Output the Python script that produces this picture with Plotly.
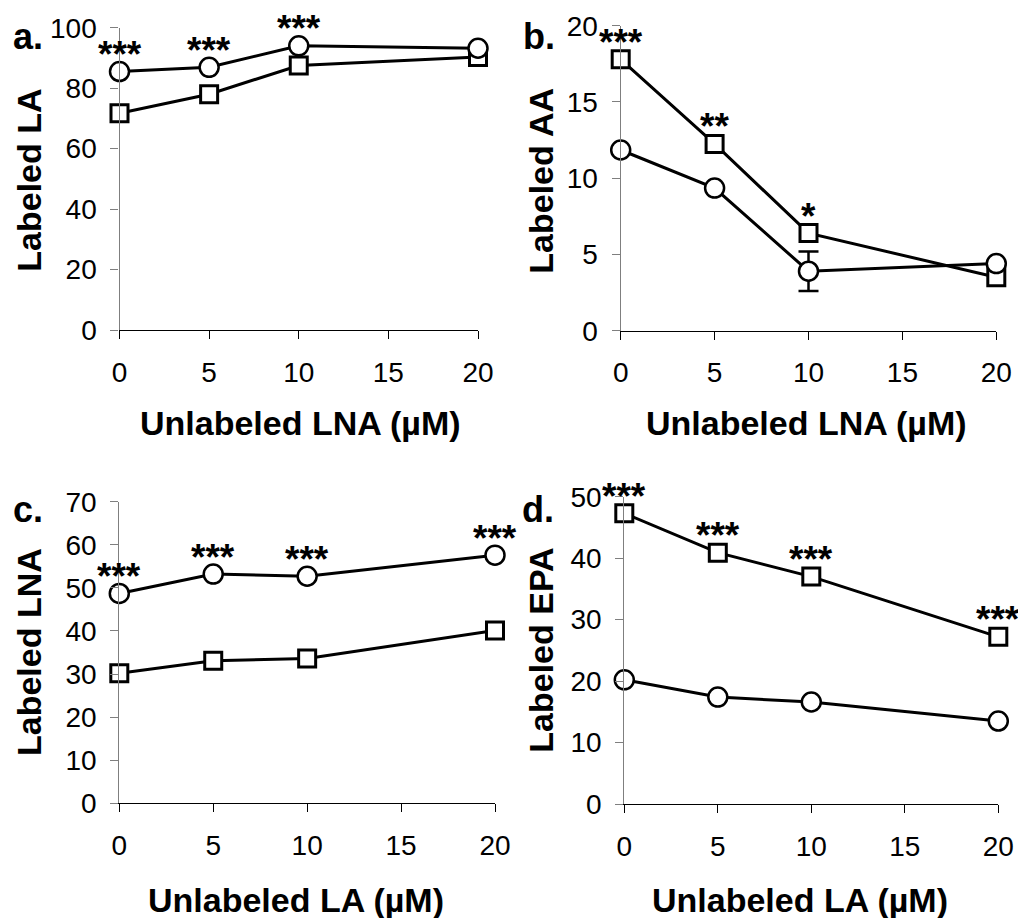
import plotly.graph_objects as go

# page body adds an 8px margin; the figure is sized/positioned to compensate
OFF = 8
W, H = 1026 - OFF, 918 - OFF

x_vals = [0, 5, 10, 20]
x_ticks = [0, 5, 10, 15, 20]

# Panel a: Labeled LA vs unlabeled LNA
a_circle = [85.5, 86.9, 94.0, 93.2]
a_square = [71.7, 78.0, 87.5, 90.3]
a_stars = ["***", "***", "***", ""]

# Panel b: Labeled AA vs unlabeled LNA
b_circle = [11.85, 9.35, 3.9, 4.4]
b_circle_err = [0, 0, 1.3, 0]
b_square = [17.8, 12.25, 6.4, 3.5]
b_stars = ["***", "**", "*", ""]

# Panel c: Labeled LNA vs unlabeled LA
c_circle = [48.7, 53.2, 52.7, 57.6]
c_square = [30.2, 33.1, 33.6, 40.1]
c_stars = ["***", "***", "***", "***"]

# Panel d: Labeled EPA vs unlabeled LA
d_circle = [20.2, 17.4, 16.6, 13.5]
d_square = [47.3, 40.9, 37.0, 27.2]
d_stars = ["***", "***", "***", "***"]

y_titles = ["Labeled LA", "Labeled AA", "Labeled LNA", "Labeled EPA"]
x_titles = ["Unlabeled LNA (µM)", "Unlabeled LNA (µM)", "Unlabeled LA (µM)", "Unlabeled LA (µM)"]
panel_labels = ["a.", "b.", "c.", "d."]
y_ranges = [[0, 100], [0, 20], [0, 70], [0, 50]]
y_dticks = [20, 5, 10, 10]

# layout geometry (window pixels)
px_x = [(119.5, 478), (620.7, 996.3), (119.3, 495), (624.3, 998.3)]
px_y = [(27.7, 330), (25.7, 330.7), (501.7, 803.3), (496.7, 804)]
ytitle_pos = [(29, 180.7), (541, 180.7), (29, 652), (541, 650.7)]
xtitle_pos = [(300, 423), (806.7, 423), (295.7, 900), (800, 900)]
plabel_pos = [(27.5, 36), (538.5, 36), (28, 509), (537.5, 509)]


def fx(px):
    return (px - OFF) / W


def fy(py):
    return 1 - (py - OFF) / H


FONT = "Liberation Sans, Arial, sans-serif"

fig = go.Figure()

panels = [
    (a_circle, a_square, a_stars, "circle", None),
    (b_circle, b_square, b_stars, "square", b_circle_err),
    (c_circle, c_square, c_stars, "circle", None),
    (d_circle, d_square, d_stars, "square", None),
]

line_style = dict(color="black", width=3)

for i, (circ, sq, stars, star_on, cerr) in enumerate(panels):
    xa = "x" if i == 0 else f"x{i+1}"
    ya = "y" if i == 0 else f"y{i+1}"
    fig.add_trace(go.Scatter(
        x=x_vals, y=sq, mode="lines+markers", xaxis=xa, yaxis=ya,
        line=line_style, cliponaxis=False, showlegend=False,
        marker=dict(symbol="square", size=17, color="white",
                    line=dict(color="black", width=3)),
    ))
    err = None
    if cerr is not None:
        err = dict(type="data", array=cerr, visible=True, color="black",
                   thickness=2.5, width=10)
    fig.add_trace(go.Scatter(
        x=x_vals, y=circ, mode="lines+markers", xaxis=xa, yaxis=ya,
        line=line_style, cliponaxis=False, showlegend=False, error_y=err,
        marker=dict(symbol="circle", size=19, color="white",
                    line=dict(color="black", width=2.5)),
    ))
    ref_vals = circ if star_on == "circle" else sq
    for xv, yv, s in zip(x_vals, ref_vals, stars):
        if s:
            fig.add_annotation(x=xv, y=yv, xref=xa, yref=ya, text=f"<b>{s}</b>",
                               showarrow=False, yshift=17, yanchor="middle",
                               font=dict(family=FONT, size=37, color="black"))

    # axes
    x0, x1 = px_x[i]
    yt, yb = px_y[i]
    xkey = "xaxis" if i == 0 else f"xaxis{i+1}"
    ykey = "yaxis" if i == 0 else f"yaxis{i+1}"
    fig.update_layout(**{
        xkey: dict(domain=[fx(x0), fx(x1)], range=[0, 20], anchor=ya,
                   automargin=False,
                   tickvals=x_ticks, ticks="outside", ticklen=8, tickwidth=1,
                   tickcolor="black", showline=True, linecolor="black",
                   linewidth=1.3, showgrid=False, zeroline=False,
                   ticklabelstandoff=9,
                   tickfont=dict(family=FONT, size=28, color="black")),
        ykey: dict(domain=[fy(yb), fy(yt)], range=y_ranges[i], anchor=xa,
                   automargin=False,
                   dtick=y_dticks[i], tick0=0, ticks="outside", ticklen=8,
                   tickwidth=1, tickcolor="#7f7f7f", showline=True,
                   linecolor="#7f7f7f", linewidth=1.3, showgrid=False,
                   zeroline=False, ticklabelstandoff=8,
                   tickfont=dict(family=FONT, size=28, color="black")),
    })

    tx, ty = ytitle_pos[i]
    fig.add_annotation(x=fx(tx), y=fy(ty), xref="paper", yref="paper",
                       text=f"<b>{y_titles[i]}</b>", textangle=-90,
                       showarrow=False, xanchor="center", yanchor="middle",
                       font=dict(family=FONT, size=34, color="black"))
    tx, ty = xtitle_pos[i]
    fig.add_annotation(x=fx(tx), y=fy(ty), xref="paper", yref="paper",
                       text=f"<b>{x_titles[i]}</b>",
                       showarrow=False, xanchor="center", yanchor="middle",
                       font=dict(family=FONT, size=34, color="black"))
    tx, ty = plabel_pos[i]
    fig.add_annotation(x=fx(tx), y=fy(ty), xref="paper", yref="paper",
                       text=f"<b>{panel_labels[i]}</b>",
                       showarrow=False, xanchor="center", yanchor="middle",
                       font=dict(family=FONT, size=36, color="black"))

fig.update_layout(width=W, height=H, margin=dict(l=0, r=0, t=0, b=0),
                  paper_bgcolor="white", plot_bgcolor="white")

fig.write_html("out.html")
